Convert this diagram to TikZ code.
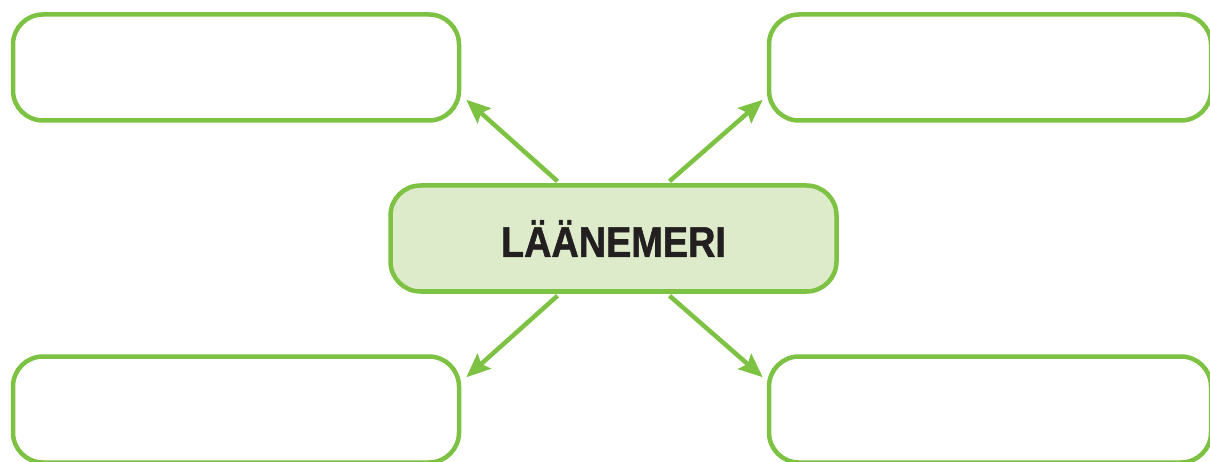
\documentclass[tikz,border=0pt]{standalone}
\usepackage{fontspec}
\newfontfamily\labelfont[FakeStretch=0.88,FakeBold=1.2]{Liberation Sans}
\usetikzlibrary{arrows.meta,calc}
\definecolor{leaf}{HTML}{7DC243}
\definecolor{paleleaf}{HTML}{DDEBCA}
\definecolor{ink}{HTML}{231F20}
\tikzset{
  x=1pt, y=1pt,
  outerbox/.style={draw=leaf, line width=4.5pt, rounded corners=30pt,
    minimum width=440pt, minimum height=106pt, inner sep=0pt},
  hubbox/.style={draw=leaf, fill=paleleaf, line width=4.5pt, rounded corners=30pt,
    minimum width=446pt, minimum height=106pt, inner sep=0pt,
    font=\labelfont\bfseries\fontsize{43}{47}\selectfont, text=ink},
  link/.style={draw=leaf, line width=4.5pt,
    -{Stealth[length=24pt,width=20pt,inset=4pt]}}
}
\begin{document}
\begin{tikzpicture}
\useasboundingbox (0,0) rectangle (1210,461);
\clip (0,0) rectangle (1210,461);
% the four empty boxes around the centre
\node[outerbox, minimum width=446pt] (tl) at (236,393.5) {};
\node[outerbox, minimum width=442pt] (tr) at (990,393.5) {};
\node[outerbox, minimum width=446pt] (bl) at (236,51.5) {};
\node[outerbox, minimum width=442pt] (br) at (990,51.5) {};
% central topic
\node[hubbox] (c) at (613.5,222.5) {LÄÄNEMERI};
% arrows from the centre to each box
\draw[link] ($(c.north)+(-56,2)$) -- ($(tl.south east)+(5,23)$);
\draw[link] ($(c.north)+(56,2)$) -- ($(tr.south west)+(-4,23)$);
\draw[link] ($(c.south)+(-56,-2)$) -- ($(bl.north east)+(5,-23)$);
\draw[link] ($(c.south)+(56,-2)$) -- ($(br.north west)+(-4,-23)$);
\end{tikzpicture}
\end{document}
